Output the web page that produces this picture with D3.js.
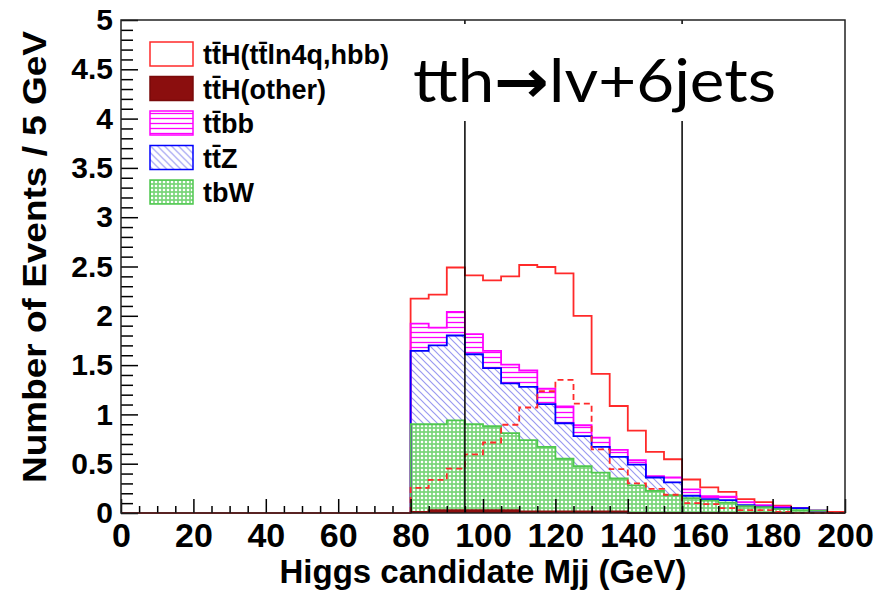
<!DOCTYPE html>
<html>
<head>
<meta charset="utf-8">
<script src="https://cdn.jsdelivr.net/npm/d3@7"></script>
<style>
  body { margin: 0; background: #fff; }
  svg { display: block; }
  .axis text { font-family: "Liberation Sans", Arial, sans-serif; font-weight: bold; fill: #000; }
  .axis path { display: none; }
  .axis line { stroke: #000; stroke-width: 1.5; }
</style>
</head>
<body>
<div class="container"></div>
<script>
// bin low edges (5 GeV bins), values per sample
const binEdges = [80, 85, 90, 95, 100, 105, 110, 115, 120, 125, 130, 135,
                  140, 145, 150, 155, 160, 165, 170, 175, 180, 185, 190, 195];
const ttHOther = [0.01, 0.03, 0.03, 0.03, 0.03, 0.03, 0.015, 0.015, 0.015, 0.015, 0.015, 0.015,
                  0, 0, 0, 0, 0, 0, 0, 0, 0, 0, 0, 0];
const tbW = [0.89, 0.87, 0.91, 0.87, 0.85, 0.78, 0.725, 0.655, 0.535, 0.46, 0.395, 0.335,
             0.28, 0.225, 0.18, 0.15, 0.125, 0.105, 0.07, 0.06, 0.04, 0.03, 0.025, 0];
const ttZ = [0.745, 0.80, 0.86, 0.71, 0.59, 0.505, 0.54, 0.435, 0.36, 0.305, 0.26, 0.22,
             0.21, 0.135, 0.13, 0.025, 0.015, 0.025, 0.01, 0.005, 0.01, 0.02, 0, 0];
const ttbb = [0.275, 0.18, 0.24, 0.205, 0.175, 0.19, 0.165, 0.155, 0.17, 0.11, 0.095, 0.07,
              0.045, 0.015, 0.05, 0.065, 0.03, 0.035, 0.03, 0.015, 0.015, 0, 0, 0];
const ttHSignal = [0.255, 0.335, 0.45, 0.595, 0.715, 0.895, 1.07, 1.235, 1.35, 1.11, 0.645, 0.445,
                   0.30, 0.245, 0.185, 0.10, 0.09, 0.05, 0.03, 0.03, 0.01, 0, 0, 0.01];

const xMajor = [0, 20, 40, 60, 80, 100, 120, 140, 160, 180, 200];
const yMajor = [0, 0.5, 1, 1.5, 2, 2.5, 3, 3.5, 4, 4.5, 5];
const cutLines = [95, 155];

const legendItems = [
  { label: 'tt\u0304H(tt\u0304ln4q,hbb)', fill: '#fff', stroke: '#ff2a2a' },
  { label: 'tt\u0304H(other)', fill: '#8b0e0e', stroke: '#7a0a0a' },
  { label: 'tt\u0304bb', fill: 'url(#hatchMag)', stroke: '#ff00ff' },
  { label: 'tt\u0304Z', fill: 'url(#hatchBlue)', stroke: '#0000ff' },
  { label: 'tbW', fill: 'url(#hatchGreen)', stroke: '#4fc84f' }
];

const W = 886, H = 592;
const x = d3.scaleLinear().domain([0, 200]).range([121, 845]);
const y = d3.scaleLinear().domain([0, 5]).range([513, 20]);

const svg = d3.select('.container').append('svg')
    .attr('width', W).attr('height', H);

// patterns
const defs = svg.append('defs');
let p = defs.append('pattern').attr('id', 'hatchMag')
    .attr('patternUnits', 'userSpaceOnUse').attr('width', 10).attr('height', 5);
p.append('line').attr('x1', 0).attr('x2', 10).attr('y1', 2.5).attr('y2', 2.5)
    .attr('stroke', '#ff00ff').attr('stroke-width', 1.3);

p = defs.append('pattern').attr('id', 'hatchBlue')
    .attr('patternUnits', 'userSpaceOnUse').attr('width', 7).attr('height', 7);
p.append('path').attr('d', 'M-1,-1 L8,8 M-1,6 L1,8 M6,-1 L8,1')
    .attr('stroke', '#9a9af0').attr('stroke-width', 1.2);

p = defs.append('pattern').attr('id', 'hatchGreen')
    .attr('patternUnits', 'userSpaceOnUse').attr('width', 4).attr('height', 4);
p.append('rect').attr('width', 4).attr('height', 4).attr('fill', '#7ad67a');
p.append('circle').attr('cx', 2).attr('cy', 2).attr('r', 1.3).attr('fill', '#fff');

// stacked table
const keys = ['other', 'tbW', 'ttZ', 'ttbb', 'sig'];
const table = binEdges.map((b, i) => ({
  bin: b, other: ttHOther[i], tbW: tbW[i], ttZ: ttZ[i], ttbb: ttbb[i], sig: ttHSignal[i]
}));
const series = d3.stack().keys(keys)(table);

const fills = { other: '#8b0e0e', tbW: 'url(#hatchGreen)', ttZ: 'url(#hatchBlue)', ttbb: 'url(#hatchMag)', sig: 'none' };
const strokes = { other: '#8b0e0e', tbW: '#4fc84f', ttZ: '#0000ff', ttbb: '#ff00ff', sig: '#ff2a2a' };

// add the closing edge at 200 GeV for step curves
let withEnd = s => {
  let pts = s.map(d => ({ x: d.data.bin, y0: d[0], y1: d[1] }));
  let last = pts[pts.length - 1];
  pts.push({ x: 200, y0: last.y0, y1: last.y1 });
  return pts;
};

const area = d3.area().curve(d3.curveStepAfter)
    .x(d => x(d.x)).y0(d => y(d.y0)).y1(d => y(d.y1));

svg.append('g').selectAll('path')
    .data(series)
    .enter().append('path')
    .attr('d', s => area(withEnd(s)))
    .attr('fill', s => fills[s.key])
    .attr('stroke', 'none');

const stepLine = d3.line().curve(d3.curveStepAfter).x(d => x(d[0])).y(d => y(d[1]));

let outline = (vals, fromZero) => {
  let pts = fromZero ? [[0, 0]] : [[80, 0]];
  binEdges.forEach((b, i) => pts.push([b, vals[i]]));
  pts.push([200, 0]);
  return pts;
};

// outlines: top of stack first, lower ones drawn over
const outlineOrder = series.slice().reverse();
svg.append('g').selectAll('path')
    .data(outlineOrder)
    .enter().append('path')
    .attr('d', s => stepLine(outline(s.map(d => d[1]), s.key === 'sig')))
    .attr('fill', 'none')
    .attr('stroke', s => strokes[s.key])
    .attr('stroke-width', 1.8);

// signal alone, dashed
svg.append('path')
    .attr('d', stepLine(outline(ttHSignal, false)))
    .attr('fill', 'none')
    .attr('stroke', '#ff2a2a')
    .attr('stroke-width', 1.8)
    .attr('stroke-dasharray', '6,4');

// cut lines
svg.append('g').selectAll('line')
    .data(cutLines)
    .enter().append('line')
    .attr('x1', d => x(d)).attr('x2', d => x(d))
    .attr('y1', y(0)).attr('y2', y(5))
    .attr('stroke', '#000').attr('stroke-width', 1.5);

// axes
const xMinor = d3.range(0, 201, 5).filter(v => v % 20 !== 0);
svg.append('g').attr('class', 'axis')
    .attr('transform', `translate(0,${y(0)})`)
    .call(d3.axisBottom(x).tickValues(xMinor).tickSize(-7).tickFormat(''));
svg.append('g').attr('class', 'axis xlab')
    .attr('transform', `translate(0,${y(0)})`)
    .call(d3.axisBottom(x).tickValues(xMajor).tickSize(-14).tickPadding(10).tickFormat(d => d))
    .selectAll('text').style('font-size', '34px');

const yMinor = d3.range(0, 50).map(v => v / 10).filter(v => Math.round(v * 10) % 5 !== 0);
svg.append('g').attr('class', 'axis')
    .attr('transform', `translate(${x(0)},0)`)
    .call(d3.axisLeft(y).tickValues(yMinor).tickSize(-12).tickFormat(''));
svg.append('g').attr('class', 'axis ylab')
    .attr('transform', `translate(${x(0)},0)`)
    .call(d3.axisLeft(y).tickValues(yMajor).tickSize(-17).tickPadding(8).tickFormat(d => d))
    .selectAll('text').style('font-size', '30px');

// frame
svg.append('rect')
    .attr('x', x(0)).attr('y', y(5))
    .attr('width', x(200) - x(0)).attr('height', y(0) - y(5))
    .attr('fill', 'none').attr('stroke', '#222').attr('stroke-width', 1.5);

// axis titles
svg.append('text')
    .attr('x', (x(0) + x(200)) / 2).attr('y', 583)
    .attr('text-anchor', 'middle')
    .style('font-family', '"Liberation Sans", Arial, sans-serif')
    .style('font-weight', 'bold').style('font-size', '33px')
    .text('Higgs candidate Mjj (GeV)');

svg.append('text')
    .attr('transform', 'translate(46,257) rotate(-90)')
    .attr('text-anchor', 'middle')
    .attr('textLength', 452).attr('lengthAdjust', 'spacingAndGlyphs')
    .style('font-family', '"Liberation Sans", Arial, sans-serif')
    .style('font-weight', 'bold').style('font-size', '33px')
    .text('Number of Events / 5 GeV');

// legend
const leg = svg.append('g').selectAll('g')
    .data(legendItems)
    .enter().append('g')
    .attr('transform', (d, i) => `translate(150,${42 + i * 34.5})`);
leg.append('rect')
    .attr('width', 43).attr('height', 24)
    .attr('fill', d => d.fill).attr('stroke', d => d.stroke).attr('stroke-width', 1.5);
leg.append('text')
    .attr('x', 53).attr('y', 22)
    .style('font-family', '"Liberation Sans", Arial, sans-serif')
    .style('font-weight', 'bold').style('font-size', '27px')
    .text(d => d.label);

// title on a white text box (hides the cut lines behind it)
svg.append('rect')
    .attr('x', 400).attr('y', 24).attr('width', 395).attr('height', 97)
    .attr('fill', '#fff');
const title = svg.append('text')
    .attr('x', 413).attr('y', 102)
    .attr('textLength', 363).attr('lengthAdjust', 'spacingAndGlyphs')
    .style('font-family', 'Lato, "Open Sans", sans-serif')
    .style('font-size', '60px');
title.append('tspan').text('tth');
title.append('tspan')
    .style('font-family', '"DejaVu Sans", sans-serif').style('font-weight', 'bold')
    .text('\u2192');
title.append('tspan').text('lv+6jets');
</script>
</body>
</html>
